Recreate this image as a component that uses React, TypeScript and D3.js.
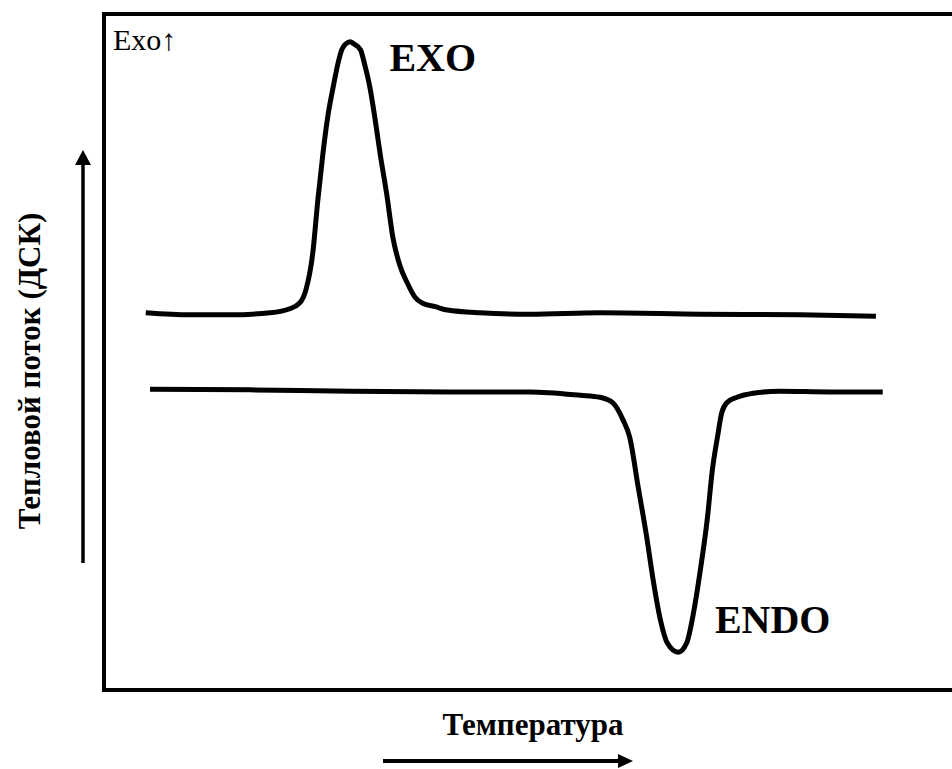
import React from "react";
import * as d3 from "d3";

// Schematic DSC thermogram (arbitrary units: temperature 0..100, heat flow 0..100)
const exoTemperature = [4.9, 10.1, 14.8, 19.5, 21.8, 23.0, 23.7, 24.5, 25.1, 25.7, 26.3, 26.9, 27.5, 27.9, 28.4, 28.9, 29.3, 30.1, 30.6, 31.2, 31.8, 32.4, 33.2, 33.9, 34.7, 35.6, 36.5, 37.4, 38.9, 40.3, 44.1, 50.0, 58.2, 70.0, 81.7, 90.6];
const exoHeatFlow = [55.8, 55.5, 55.5, 55.8, 56.4, 57.3, 59.2, 64.6, 72.5, 79.4, 85.1, 89.2, 92.9, 94.7, 95.6, 95.9, 95.6, 94.7, 92.5, 89.2, 84.6, 79.4, 73.2, 67.0, 62.9, 60.2, 58.1, 57.2, 56.7, 56.2, 55.8, 55.6, 55.8, 55.6, 55.5, 55.3];

const endoTemperature = [5.4, 17.1, 28.9, 40.6, 50.0, 55.9, 58.2, 59.7, 60.9, 61.7, 62.7, 63.7, 64.4, 65.3, 66.1, 67.4, 68.4, 69.1, 70.0, 70.8, 71.4, 72.0, 72.5, 73.1, 74.3, 76.2, 79.3, 85.2, 91.4];
const endoHeatFlow = [44.5, 44.4, 44.2, 44.1, 44.1, 43.6, 43.3, 42.5, 40.0, 37.4, 30.0, 22.6, 16.7, 10.4, 7.0, 5.6, 7.0, 10.8, 17.8, 25.2, 32.5, 37.4, 41.0, 42.5, 43.3, 43.9, 44.2, 44.1, 44.1];

const peakLabels = ["EXO", "ENDO"];
const peakLabelTemperature = [33.5, 71.7];
const peakLabelHeatFlow = [91.5, 8.5];

const cornerLabel = "Exo\u2191";
const xAxisLabel = "Температура";
const yAxisLabel = "Тепловой поток (ДСК)";

const FONT = "Liberation Serif, Times New Roman, Times, serif";

export default function App() {
  const W = 952;
  const H = 769;
  const frame = { left: 104, top: 14, right: 956, bottom: 690 };

  const x = d3.scaleLinear().domain([0, 100]).range([frame.left, frame.right]);
  const y = d3.scaleLinear().domain([0, 100]).range([frame.bottom, frame.top]);

  const line = d3
    .line<[number, number]>()
    .x((d) => x(d[0]))
    .y((d) => y(d[1]))
    .curve(d3.curveMonotoneX);

  const exoPts: [number, number][] = exoTemperature.map((t, i) => [t, exoHeatFlow[i]]);
  const endoPts: [number, number][] = endoTemperature.map((t, i) => [t, endoHeatFlow[i]]);

  const yArrowX = 83;
  const yArrowTop = 150;
  const yArrowBottom = 563;
  const xArrowY = 761;
  const xArrowLeft = 383;
  const xArrowRight = 633;

  const txt = { fontFamily: FONT };

  return (
    <svg
      width={W}
      height={H}
      style={{ position: "absolute", left: 0, top: 0, background: "#fff" }}
    >
      <rect x={0} y={0} width={W} height={H} fill="#fff" />
      {/* frame */}
      <rect
        x={frame.left}
        y={frame.top}
        width={frame.right - frame.left + 20}
        height={frame.bottom - frame.top}
        fill="none"
        stroke="#000"
        strokeWidth={4}
      />
      {/* curves */}
      <path d={line(exoPts) || ""} fill="none" stroke="#000" strokeWidth={5} strokeLinejoin="round" />
      <path d={line(endoPts) || ""} fill="none" stroke="#000" strokeWidth={5} strokeLinejoin="round" />

      {/* peak labels */}
      {peakLabels.map((lbl, i) => (
        <text
          key={lbl}
          x={x(peakLabelTemperature[i])}
          y={y(peakLabelHeatFlow[i])}
          style={txt}
          fontWeight="bold"
          fontSize={40}
          fill="#000"
        >
          {lbl}
        </text>
      ))}

      {/* corner label */}
      <text x={113} y={50} style={txt} fontSize={30} fill="#000">
        {cornerLabel}
      </text>

      {/* y arrow */}
      <line x1={yArrowX} x2={yArrowX} y1={yArrowBottom} y2={yArrowTop + 12} stroke="#000" strokeWidth={3.5} />
      <path
        d={`M${yArrowX},${yArrowTop} L${yArrowX - 8},${yArrowTop + 15} L${yArrowX + 8},${yArrowTop + 15} Z`}
        fill="#000"
      />
      <text
        transform={`translate(40, 371) rotate(-90)`}
        textAnchor="middle"
        style={txt}
        fontWeight="bold"
        fontSize={31}
        fill="#000"
      >
        {yAxisLabel}
      </text>

      {/* x arrow */}
      <line x1={xArrowLeft} x2={xArrowRight - 12} y1={xArrowY} y2={xArrowY} stroke="#000" strokeWidth={4} />
      <path
        d={`M${xArrowRight},${xArrowY} L${xArrowRight - 15},${xArrowY - 7} L${xArrowRight - 15},${xArrowY + 7} Z`}
        fill="#000"
      />
      <text
        x={533}
        y={735}
        textAnchor="middle"
        style={txt}
        fontWeight="bold"
        fontSize={31}
        fill="#000"
      >
        {xAxisLabel}
      </text>
    </svg>
  );
}
